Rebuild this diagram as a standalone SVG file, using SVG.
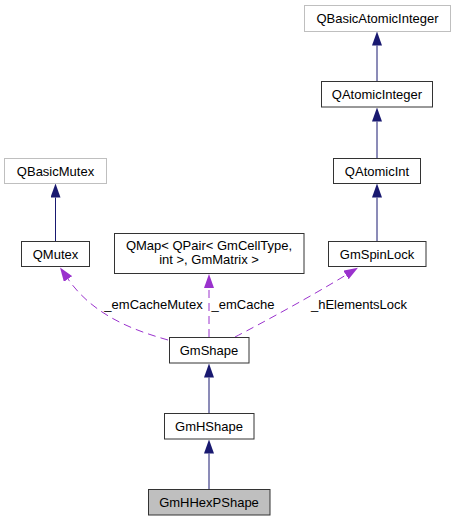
<svg xmlns="http://www.w3.org/2000/svg" width="455" height="521" viewBox="0 0 455 521">
<style>
text{font-family:"Liberation Sans",Arial,sans-serif;font-size:13px;fill:#000}
.n{text-anchor:middle}
.box{fill:#fff;stroke:#333;stroke-width:1}
.ext{fill:#fff;stroke:#bfbfbf;stroke-width:1}
.cur{fill:#bfbfbf;stroke:#333;stroke-width:1}
.inh{fill:none;stroke:#191970;stroke-width:1}
.use{fill:none;stroke:#9a32cd;stroke-width:1;stroke-dasharray:8,5}
.lbl{text-anchor:middle}
</style>
<defs>
<marker id="ah" viewBox="0 0 14 10" refX="0" refY="5" markerWidth="14" markerHeight="10" markerUnits="userSpaceOnUse" orient="auto">
<path d="M0,0 L14,5 L0,10 z" fill="#191970"/>
</marker>
<marker id="ap" viewBox="0 0 14 10" refX="0" refY="5" markerWidth="14" markerHeight="10" markerUnits="userSpaceOnUse" orient="auto">
<path d="M0,0 L14,5 L0,10 z" fill="#9a32cd"/>
</marker>
</defs>
<g id="connectors">
<path class="inh" d="M377,81 L377,45.5" marker-end="url(#ah)"/>
<path class="inh" d="M377,158 L377,121.5" marker-end="url(#ah)"/>
<path class="inh" d="M377,241 L377,197.5" marker-end="url(#ah)"/>
<path class="inh" d="M55.5,241 L55.5,197.5" marker-end="url(#ah)"/>
<path class="inh" d="M209,413 L209,377.5" marker-end="url(#ah)"/>
<path class="inh" d="M209,489 L209,453.5" marker-end="url(#ah)"/>
<path class="use" d="M168,340 C140,332 95,318 68,279" marker-end="url(#ap)"/>
<path class="use" d="M209,337 L209,288" marker-end="url(#ap)"/>
<path class="use" d="M235,337 C262,323 310,297 346,275" marker-end="url(#ap)"/>
<text class="lbl" x="153.5" y="309">_emCacheMutex</text>
<text class="lbl" x="243" y="309">_emCache</text>
<text class="lbl" x="359" y="309">_hElementsLock</text>
</g>
<g id="QBasicAtomicInteger">
<rect class="ext" x="304.5" y="5.5" width="146" height="26"/>
<text class="n" x="377.5" y="23">QBasicAtomicInteger</text>
</g>
<g id="QAtomicInteger">
<rect class="box" x="321.5" y="81.5" width="111" height="25.5"/>
<text class="n" x="377" y="98.5">QAtomicInteger</text>
</g>
<g id="QAtomicInt">
<rect class="box" x="333.5" y="158.5" width="87" height="25"/>
<text class="n" x="377" y="175.5">QAtomicInt</text>
</g>
<g id="QBasicMutex">
<rect class="ext" x="4.5" y="158.5" width="102" height="25"/>
<text class="n" x="55.5" y="175.5">QBasicMutex</text>
</g>
<g id="QMutex">
<rect class="box" x="21.5" y="241.5" width="68" height="25"/>
<text class="n" x="55.5" y="258.5">QMutex</text>
</g>
<g id="QMap">
<rect class="box" x="114.5" y="233.5" width="189.5" height="40"/>
<text class="n" x="209" y="249.5">QMap&lt; QPair&lt; GmCellType,</text>
<text class="n" x="209" y="264">int &gt;, GmMatrix &gt;</text>
</g>
<g id="GmSpinLock">
<rect class="box" x="328.5" y="241.5" width="97.5" height="25"/>
<text class="n" x="377" y="258.5">GmSpinLock</text>
</g>
<g id="GmShape">
<rect class="box" x="169.5" y="337.5" width="79.5" height="25.5"/>
<text class="n" x="209" y="354.5">GmShape</text>
</g>
<g id="GmHShape">
<rect class="box" x="164.5" y="413.5" width="89.5" height="25.5"/>
<text class="n" x="209" y="430.5">GmHShape</text>
</g>
<g id="GmHHexPShape">
<rect class="cur" x="148.5" y="489.5" width="121.5" height="25.5"/>
<text class="n" x="209" y="506.5">GmHHexPShape</text>
</g>
</svg>
